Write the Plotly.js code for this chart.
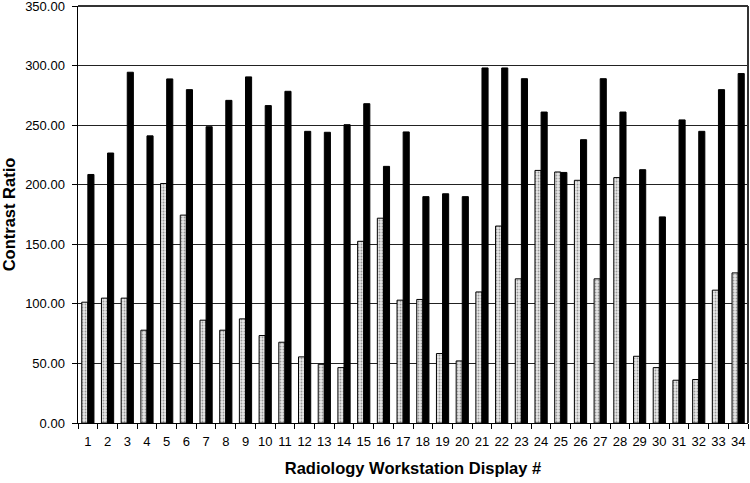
<!DOCTYPE html>
<html>
<head>
<meta charset="utf-8">
<script src="https://cdn.plot.ly/plotly-3.0.1.min.js"></script>
<style>html,body{margin:0;padding:0;background:#fff;}#chart{width:750px;height:483px;}</style>
</head>
<body>
<div id="chart"></div>
<script>
const displays = ["1","2","3","4","5","6","7","8","9","10","11","12","13","14","15","16","17","18","19","20","21","22","23","24","25","26","27","28","29","30","31","32","33","34"];
const grayValues = [101.4,104.8,104.8,77.9,201,174.5,86.3,77.9,87.4,73.4,67.8,55.5,49.3,46.5,152.5,171.9,103.1,103.7,58.3,52.1,110,165.3,121,212,210.7,203.7,121,206,56,46.5,35.9,36.5,111.5,126];
const blackValues = [208.6,226.6,294.4,241,288.8,279.8,248.7,270.8,290.5,266.4,278.4,244.8,244,250.4,268,215.4,244.3,190,192.4,190,298,298,289,261,210.3,237.8,289,261,212.6,173,254.4,244.8,279.8,293.3];
const yTicks = [0,50,100,150,200,250,300,350];

const traces = [
  {type:'bar', x:displays, y:grayValues, name:'A',
   marker:{color:'#dcdcdc', line:{color:'#000', width:1},
           pattern:{shape:'.', bgcolor:'#e8e8e8', fgcolor:'#999', size:3, solidity:0.3}}},
  {type:'bar', x:displays, y:blackValues, name:'B',
   marker:{color:'#000', line:{color:'#000', width:1}}}
];
const layout = {
  width:750, height:483,
  margin:{l:78, r:2, t:6, b:60},
  paper_bgcolor:'#fff', plot_bgcolor:'#fff',
  showlegend:false,
  barmode:'group', bargap:0.38, bargroupgap:0,
  font:{family:'Liberation Sans, Arial, sans-serif', color:'#000', size:13},
  xaxis:{type:'category', tickson:'boundaries', ticks:'outside', ticklen:5, tickcolor:'#000',
         tickangle:0, ticklabelstandoff:6, showline:true, linecolor:'#000', linewidth:1, showgrid:false,
         tickfont:{size:13}, title:{text:'Radiology Workstation Display #', font:{size:16.5, weight:'bold'}, standoff:14}},
  yaxis:{range:[0,350], tickvals:yTicks, tickformat:'.2f', ticks:'outside', ticklen:5, tickcolor:'#000',
         ticklabelstandoff:4, ticklabeloverflow:'allow', showline:true, linecolor:'#000', linewidth:1.5,
         showgrid:true, gridcolor:'#222', gridwidth:1,
         zeroline:false, tickfont:{size:13},
         title:{text:'Contrast Ratio', font:{size:16.5, weight:'bold'}, standoff:8}},
  shapes:[
    {type:'line', xref:'paper', yref:'paper', x0:0, x1:1, y0:1, y1:1, line:{color:'#333', width:2}},
    {type:'line', xref:'paper', yref:'paper', x0:1, x1:1, y0:0, y1:1, line:{color:'#333', width:2}}
  ]
};
Plotly.newPlot('chart', traces, layout, {displayModeBar:false, staticPlot:true});
</script>
</body>
</html>
